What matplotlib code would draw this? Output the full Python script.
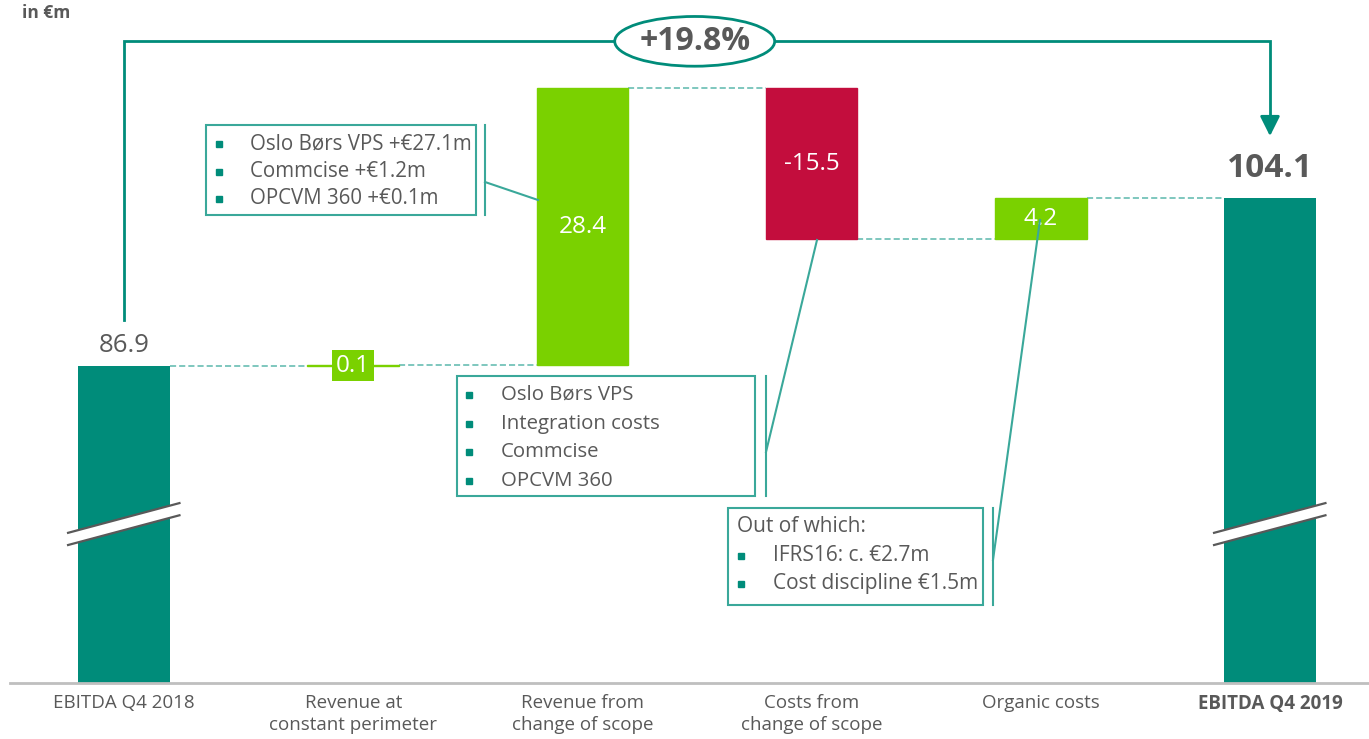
import matplotlib.pyplot as plt
from matplotlib.patches import Rectangle, Ellipse, Polygon
import numpy as np

plt.rcParams['font.family'] = ['Open Sans', 'DejaVu Sans']

# data
categories = ['EBITDA Q4 2018', 'Revenue at\nconstant perimeter', 'Revenue from\nchange of scope',
              'Costs from\nchange of scope', 'Organic costs', 'EBITDA Q4 2019']
start_value = 86.9
deltas = [0.1, 28.4, -15.5, 4.2]
end_value = 104.1
growth_label = '+19.8%'

box1_lines = ['Oslo Børs VPS +€27.1m', 'Commcise +€1.2m', 'OPCVM 360 +€0.1m']
box2_lines = ['Oslo Børs VPS', 'Integration costs', 'Commcise', 'OPCVM 360']
box3_title = 'Out of which:'
box3_lines = ['IFRS16: c. €2.7m', 'Cost discipline €1.5m']

TEAL = '#008C7A'
GREEN = '#7AD100'
RED = '#C30D3D'
GREY = '#595959'
LINE = '#3AA89A'
DASH = '#5BB8AC'

fig = plt.figure(figsize=(13.69, 7.39), dpi=100)
ax = fig.add_axes([0, 56 / 739, 1, 683 / 739])
ax.set_xlim(-0.541, 5.432)
ax.set_ylim(54.4, 124.44)
for s in ax.spines.values():
    s.set_visible(False)
ax.plot([0.007, 1], [0, 0], transform=ax.transAxes, color='#BFBFBF', lw=2, clip_on=False, zorder=5)

w = 0.40
x = np.arange(len(categories))

# totals
ax.bar(x[0], start_value, width=w, color=TEAL, zorder=3)
ax.bar(x[-1], end_value, width=w, color=TEAL, zorder=3)

# floating bars
level = start_value
levels = [start_value]
for i, d in enumerate(deltas):
    col = GREEN if d > 0 else RED
    bottom = level if d > 0 else level + d
    ax.bar(x[i + 1], abs(d), bottom=bottom, width=w, color=col, zorder=3,
           edgecolor=col, linewidth=1)
    mid = level + d / 2
    txt = f'{d:.1f}'
    if abs(d) < 1:
        ax.text(x[i + 1], mid, txt, color='white', fontsize=17.5, ha='center', va='center', zorder=6,
                bbox=dict(boxstyle='square,pad=0.15', fc=GREEN, ec='none'))
    else:
        ax.text(x[i + 1], mid, txt, color='white', fontsize=17.5, ha='center', va='center', zorder=6)
    level += d
    levels.append(level)

# dashed connectors
for i, lv in enumerate(levels):
    ax.plot([x[i] + w / 2, x[i + 1] - w / 2], [lv, lv], color=DASH, lw=1.1,
            ls=(0, (4, 2)), zorder=2)

# total labels
ax.text(x[0], start_value + 0.8, f'{start_value:.1f}', color=GREY, fontsize=18.5,
        ha='center', va='bottom')
ax.text(x[-1], end_value + 1.4, f'{end_value:.1f}', color=GREY, fontsize=24,
        ha='center', va='bottom', fontweight='bold')

# axis break marks
for xi, top in [(x[0], start_value), (x[-1], end_value)]:
    y0 = 69.8
    x_l, x_r = xi - 0.244, xi + 0.242
    gap = 1.25
    rise = 3.05
    ax.add_patch(Polygon([[x_l, y0], [x_r, y0 + rise], [x_r, y0 + rise - gap], [x_l, y0 - gap]],
                         closed=True, fc='white', ec='none', zorder=4))
    ax.plot([x_l, x_r], [y0, y0 + rise], color=GREY, lw=1.6, zorder=5)
    ax.plot([x_l, x_r], [y0 - gap, y0 + rise - gap], color=GREY, lw=1.6, zorder=5)

# growth arrow
top_y = 120.2
ax.plot([x[0], x[0], x[-1], x[-1]], [start_value + 4.7, top_y, top_y, end_value + 7.8],
        color=TEAL, lw=2, zorder=3, solid_joinstyle='miter')
ax.annotate('', xy=(x[-1], end_value + 6.1), xytext=(x[-1], end_value + 8.0),
            arrowprops=dict(arrowstyle='-|>,head_width=0.3,head_length=0.6', color=TEAL,
                            lw=2, mutation_scale=20))
ax.add_patch(Ellipse((2.49, top_y), 0.698, 5.1, fc='white', ec=TEAL, lw=2, zorder=4))
ax.text(2.49, top_y, growth_label, ha='center', va='center', fontsize=23, fontweight='bold',
        color=GREY, zorder=5)

ax.set_xticks(x)
ax.set_xticklabels(categories, fontsize=13.5, color=GREY, linespacing=1.3)
ax.get_xticklabels()[-1].set_fontweight('bold')
ax.tick_params(axis='x', length=0, pad=8)
ax.set_yticks([])

# callouts in pixel coordinates
ov = fig.add_axes([0, 0, 1, 1], zorder=10)
ov.set_xlim(0, 1369)
ov.set_ylim(739, 0)
ov.axis('off')
ov.patch.set_alpha(0)

ov.text(22, 13, 'in €m', fontsize=12.5, fontweight='bold', color=GREY, va='center')


def callout(x0, y0, x1, y1, bx, lines, bullet_x, text_x, first_y, step, fs, title=None):
    ov.add_patch(Rectangle((x0, y0), x1 - x0, y1 - y0, fc='white', ec=LINE, lw=1.5))
    ov.plot([bx, bx], [y0, y1], color=LINE, lw=1.5)
    yy = first_y
    if title:
        ov.text(bullet_x - 4, yy, title, fontsize=fs, color=GREY, va='center')
        yy += step
    for t in lines:
        ov.plot(bullet_x, yy, marker='s', ms=5, color=TEAL)
        ov.text(text_x, yy, t, fontsize=fs, color=GREY, va='center')
        yy += step


callout(206, 125, 476, 215, 485, box1_lines, 219, 250, 144, 27.5, 14.8)
ov.plot([485, 538], [182, 200], color=LINE, lw=1.5)
callout(457, 376, 755, 496, 766, box2_lines, 469, 501, 395, 28.7, 14.7)
ov.plot([766, 817], [452, 240], color=LINE, lw=1.5)
callout(728, 508, 983, 605, 993, box3_lines, 741, 773, 527, 28.5, 15, title=box3_title)
ov.plot([993, 1040], [560, 220], color=LINE, lw=1.5)

fig.savefig('out.png', dpi=100)
